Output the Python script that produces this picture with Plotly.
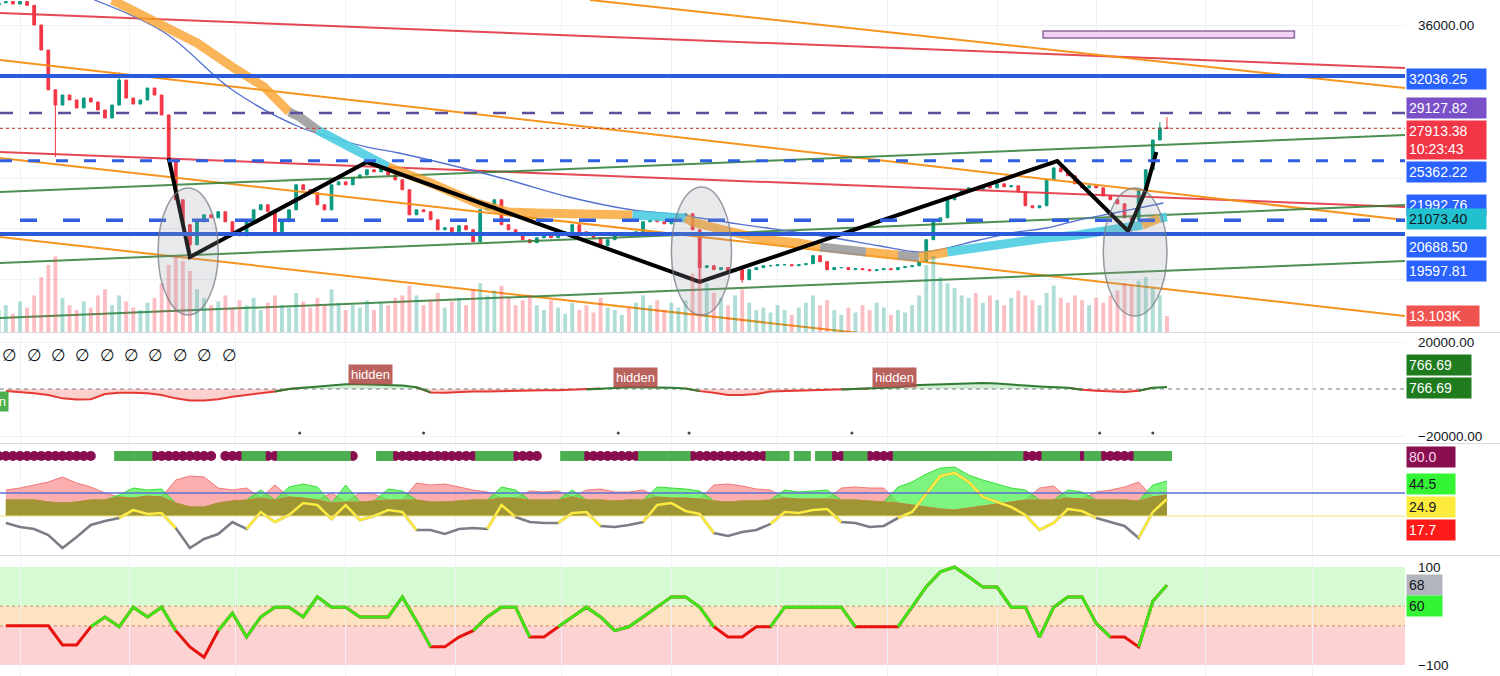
import pandas as pd
import plotly.graph_objects as go

# ---------------------------------------------------------------- data
candle_start = "2022-04-25"          # one candle every 2 days
first_open = 37600
closes = [
    37800, 37900, 37700, 37900, 37600, 36050, 34080, 30950, 29750, 30540,
    30150, 29520, 30300, 29990, 29360, 28730, 29750, 31720, 30300, 29830,
    30150, 31090, 30540, 28970, 25430, 22290, 20330, 18750, 20560, 21110,
    20870, 21350, 20560, 19770, 19460, 20560, 21500, 21900, 21350, 19770,
    20560, 21500, 23470, 23080, 22840, 21900, 21500, 23470, 23700, 23470,
    24020, 24250, 24650, 24490, 24810, 24250, 23860, 23080, 21110, 21500,
    21350, 20720, 19930, 20090, 19770, 20250, 19930, 18990, 21500, 21740,
    22290, 20330, 19930, 19540, 19150, 18910, 19300, 19460, 19300, 19610,
    19770, 20330, 19770, 19460, 19300, 18670, 19150, 19460, 19610, 19460,
    19770, 20560, 20720, 20560, 20400, 20720, 21030, 21190, 19930, 16950,
    17100, 16790, 16950, 16630, 16790, 16000, 16790, 16950, 17100, 17100,
    17180, 17180, 17100, 17180, 17260, 17890, 17420, 16790, 16950, 16950,
    16790, 16870, 16790, 16710, 16790, 16870, 16790, 16950, 17020, 17100,
    17420, 19150, 20560, 20870, 22290, 22680, 23080, 23230, 23080, 23390,
    23230, 23550, 23310, 23390, 22920, 21820, 21660, 21820, 23860, 24800,
    24490, 24180, 23550, 23230, 23390, 23230, 22600, 22290, 21970, 20870,
    20720, 23080, 24650, 27000, 27950, 27913.38,
]
wick_idx = [8, 17, 27, 99, 105, 115, 160, 164, 165]
wick_low = [25660, None, 17700, 15820, 15740, None, 19650, None, None]
wick_high = [None, 32300, None, None, None, 17950, None, 28400, 28800]
volume_k = [
    18, 22, 15, 25, 20, 30, 45, 55, 62, 28, 22, 18, 25, 20, 30, 35, 22,
    30, 25, 20, 18, 24, 28, 40, 55, 62, 58, 50, 35, 28, 22, 25, 30, 20, 26,
    22, 28, 18, 24, 30, 22, 20, 32, 25, 20, 28, 22, 35, 24, 18, 22,
    20, 26, 18, 24, 22, 28, 30, 38, 30, 22, 26, 32, 20, 25, 28, 22, 35,
    40, 30, 34, 38, 28, 22, 26, 30,
    22, 18, 26, 20, 15, 24, 18, 22, 16, 28, 20, 18, 14, 20, 24,
    30, 22, 26, 18, 24, 20, 26, 48, 58, 40, 32,
    28, 22, 30, 35, 24, 18, 20, 16, 22, 18, 14, 20, 24,
    30, 22, 26, 18, 14, 20, 16, 22, 18, 24, 20, 14, 18, 16, 22, 30,
    55, 62, 45, 40, 36, 30, 28, 32, 24, 30, 26, 22, 28, 34, 30, 26, 22,
    32, 38, 28, 24, 30, 26, 22, 28, 24, 30, 34, 40, 38, 42, 45, 36, 30, 13.103,
]

# lower panes: one value every 4 days
osc_start = "2022-04-27"
macd_vals = [
    -900, -1270, -1810, -2530, -3980, -4520, -4340, -2170, -1630, -1630,
    -1810, -2530, -3980, -4890, -4890, -4340, -3260, -2530, -1810, -1090,
    0, 540, 1090, 1450, 1990, 1990, 1810, 1630, 1450, 720,
    -1450, -1630, -1270, -1090, -1090, -900, -720, -720, -540, -540,
    -360, -180, 180, 360, 720, 720, 720, 540, 180, -900,
    -1630, -2530, -2530, -2170, -1090, -900, -720, -540, -360, -180,
    0, 180, 360, 720, 1630, 1810, 1990, 2350, 2530, 2530,
    2350, 1810, 1450, 1090, 900, 540, -360, -720, -1090, -1270,
    -720, 540, 900,
]
di_red = [
    26, 28, 31, 34, 39, 33, 29, 23, 19, 18, 20, 19, 36, 40, 39, 28, 26, 28, 18, 31,
    19, 18, 16, 23, 14, 23, 22, 16, 16, 33, 31, 32, 29, 26, 24, 18, 18, 25, 24, 25,
    19, 26, 27, 24, 24, 26, 19, 18, 18, 17, 31, 32, 30, 27, 26, 18, 17, 17, 17, 28,
    29, 28, 28, 13, 11, 9, 7, 6, 8, 10, 12, 14, 16, 28, 30, 18, 17, 24, 26, 29,
    34, 19, 21,
]
di_green = [
    16, 16, 16, 14, 13, 14, 16, 16, 21, 28, 26, 27, 13, 9, 9, 13, 15, 16, 26, 16,
    29, 32, 29, 13, 31, 14, 15, 27, 25, 16, 14, 14, 15, 16, 16, 29, 26, 16, 16, 16,
    26, 16, 16, 15, 16, 16, 29, 28, 27, 25, 15, 14, 15, 15, 16, 26, 24, 25, 26, 16,
    16, 15, 14, 29, 34, 42, 48, 49, 41, 36, 32, 28, 26, 16, 16, 26, 24, 16, 16, 16,
    15, 31, 35,
]
adx_vals = [
    -7, -11, -13, -19, -32, -21, -9, -5, -2, 6, 2, 3, -12, -32, -23, -18, -6, -13, 4, -6,
    1, 13, 11, -3, 11, -4, 0, 6, 4, -14, -14, -18, -13, -12, -13, 11, -1, -6, -7, -7,
    3, 4, -10, -11, -9, -6, 11, 13, 5, 2, -17, -20, -16, -14, -8, 4, 3, 6, 7, -6,
    -7, -11, -10, -2, 4, 22, 40, 43, 34, 19, 14, 9, 1, -14, -7, 7, 5, -2, -6, -10,
    -22, 4, 17,
]
cci_vals = [
    -20, -20, -20, -20, -59, -59, -22, -2, -22, 18, -2, 18, -30, -63, -84, -30, 6, -43, -2, 18,
    18, -2, 39, 18, 18, -2, -2, -2, 39, -10, -63, -63, -43, -30, -2, 18, 18, -43, -43, -22,
    -2, 18, -2, -30, -22, -2, 18, 39, 39, 18, -22, -43, -43, -22, -22, 18, 18, 18, 18, 18,
    -22, -22, -22, -22, 18, 60, 90, 100, 80, 59, 59, 18, 18, -43, 18, 39, 39, -15, -43, -43,
    -63, 30, 63,
]
# state row of pane 3, one char per 2-day candle (m = maroon, g = green, . = none)
state_row = "".join([
    "mmmmmmmmmmmmmm", "...", "ggggg", "mmmmmmmmm", ".", "mmm", "ggg", "mm",
    "gggggggggg", "m", "...", "gg", "mmmmmmmmmmmm", "ggggg", "mmmm", "...",
    "ggg", "mmmmmmmm", "ggggggg", "mmmmmmmmmmm", "ggg", ".", "gg", ".", "gg",
    "mm", "ggg", "mmmm", "gggggggggggggggggg", "mmm", "ggggg", "m", "gg",
    "mmmmm", "ggggg",
])

# horizontal levels
level_thick = [32036.25, 19597.81]
level_purple = 29127.82
level_blue_dash_a = 25362.22
level_blue_dash_b = 20688.50
last_price = 27913.38

# trend lines
tl_x0 = ["2022-04-25 08:00", "2022-04-25 08:00", "2022-10-09", "2022-04-25 08:00",
         "2022-04-25 08:00", "2022-04-25 08:00", "2022-04-25 08:00",
         "2022-04-25 08:00", "2022-04-25 08:00"]
tl_y0 = [36996, 26053, 38020, 33296, 25580, 19361, 22904, 17314, 12984]
tl_x1 = ["2023-05-27 06:00"] * 9
tl_y1 = [32666, 21723, 31091, 20699, 13141, 7000, 27391, 21880, 17471]
tl_kind = ["red", "red", "orange", "orange", "orange", "orange", "green", "green", "green"]

# moving averages
thin_ma_dates = ["2022-05-22", "2022-06-11", "2022-06-30", "2022-07-19", "2022-08-07",
                 "2022-08-16", "2022-09-14", "2022-10-03", "2022-10-21", "2022-11-04",
                 "2022-11-09", "2022-11-18", "2022-11-28", "2022-12-17", "2022-12-30",
                 "2023-01-11", "2023-01-27", "2023-02-05", "2023-02-15", "2023-02-24",
                 "2023-03-06", "2023-03-13", "2023-03-20"]
thin_ma_vals = [38020, 35421, 30934, 28021, 26446, 25974, 24006, 22510, 21486, 21093,
                20856, 20463, 20069, 19282, 18652, 18180, 19124, 19675, 20069, 20698,
                21250, 21643, 22037]
thick_ma_dates = ["2022-05-27", "2022-06-11", "2022-06-20", "2022-06-30", "2022-07-09",
                  "2022-07-16", "2022-07-19", "2022-07-24", "2022-07-28", "2022-08-07",
                  "2022-08-13", "2022-08-25", "2022-09-07", "2022-09-16", "2022-09-24",
                  "2022-10-11", "2022-10-21", "2022-10-26", "2022-11-05", "2022-11-07",
                  "2022-11-18", "2022-11-28", "2022-12-07", "2022-12-13", "2022-12-26",
                  "2023-01-04", "2023-01-10", "2023-01-18", "2023-01-27", "2023-02-05",
                  "2023-02-15", "2023-02-24", "2023-03-06", "2023-03-10", "2023-03-14",
                  "2023-03-17", "2023-03-19", "2023-03-21"]
thick_ma_vals = [38020, 35894, 34634, 32745, 31170, 29202, 28808, 27785, 27234, 25659,
                 24872, 23612, 22037, 21329, 21250, 21093, 21093, 21014, 20856, 20541,
                 19754, 19124, 18888, 18573, 18180, 17944, 17786, 18180, 18573, 18888,
                 19282, 19518, 19912, 20069, 20305, 20541, 20856, 20935]
thick_ma_state = "oooooggcccooooooccooooogogocccccccoocc"

# zigzag
zz_dates = ["2022-06-12", "2022-06-18", "2022-08-07", "2022-11-09",
            "2023-02-18", "2023-03-10", "2023-03-15", "2023-03-18"]
zz_vals = [25580, 17786, 25265, 15818, 25344, 19833, 23061, 26053]

# ellipses and box
ell_x0 = ["2022-06-09", "2022-11-01", "2023-03-03"]
ell_x1 = ["2022-06-26", "2022-11-18", "2023-03-21"]
ell_y0 = [13220, 13220, 13141]
ell_y1 = [23218, 23297, 23218]
box_x = ["2023-02-14", "2023-04-26"]
box_y = [35028, 35579]

# pane 2 extras
hidden_dates = ["2022-08-08", "2022-10-22", "2023-01-03"]
hidden_vals = [6000, 4700, 4700]
dot_dates = ["2022-07-19", "2022-08-23", "2022-10-17", "2022-11-06",
             "2022-12-22", "2023-03-02", "2023-03-17"]
dot_vals = [-18700] * 7

# ---------------------------------------------------------------- build
FONT = "Liberation Sans, Arial, sans-serif"
X0, X1 = "2022-04-25 08:24", "2023-05-27 05:45"
W, H = 1500, 676

cdates = pd.date_range(candle_start, periods=len(closes), freq="2D")
odates = pd.date_range(osc_start, periods=len(macd_vals), freq="4D")
opens = [first_open] + closes[:-1]
highs = [max(o, c) for o, c in zip(opens, closes)]
lows = [min(o, c) for o, c in zip(opens, closes)]
for k, i in enumerate(wick_idx):
    if wick_low[k] is not None:
        lows[i] = min(lows[i], wick_low[k])
    if wick_high[k] is not None:
        highs[i] = max(highs[i], wick_high[k])
vol_colors = ["rgba(8,153,129,0.32)" if c >= o else "rgba(242,54,69,0.32)"
              for o, c in zip(opens, closes)]


def masked(vals, keep):
    out = []
    for k, v in enumerate(vals):
        nb = [keep(vals[m]) for m in (k - 1, k, k + 1) if 0 <= m < len(vals)]
        out.append(v if any(nb) else None)
    return out


fig = go.Figure()
NOHOVER = dict(hoverinfo="skip", showlegend=False)

# volume
fig.add_trace(go.Bar(x=cdates, y=volume_k, marker_color=vol_colors, marker_line_width=0,
                     width=1.1 * 86400000, xaxis="x", yaxis="y5", **NOHOVER))

tl_colors = {"red": "rgba(226,52,64,0.9)", "orange": "rgba(245,142,20,0.95)",
             "green": "rgba(46,125,50,0.85)"}
for a, b, c, d, kind in zip(tl_x0, tl_y0, tl_x1, tl_y1, tl_kind):
    fig.add_trace(go.Scatter(x=[a, c], y=[b, d], mode="lines",
                             line=dict(color=tl_colors[kind], width=2),
                             xaxis="x", yaxis="y", **NOHOVER))

fig.add_trace(go.Scatter(x=thin_ma_dates, y=thin_ma_vals, mode="lines",
                         line=dict(color="#5470d0", width=1.3, shape="spline"),
                         xaxis="x", yaxis="y", **NOHOVER))

ma_colors = {"o": "rgba(247,160,40,0.78)", "g": "rgba(150,150,150,0.85)",
             "c": "rgba(77,205,225,0.9)"}
k = 0
n = len(thick_ma_dates)
while k < n - 1:
    st = thick_ma_state[k]
    m = k
    while m < n - 1 and thick_ma_state[m] == st:
        m += 1
    fig.add_trace(go.Scatter(x=thick_ma_dates[k:m + 1], y=thick_ma_vals[k:m + 1],
                             mode="lines", line=dict(color=ma_colors[st], width=9),
                             xaxis="x", yaxis="y", **NOHOVER))
    k = m

fig.add_trace(go.Candlestick(x=cdates, open=opens, high=highs, low=lows, close=closes,
                             increasing=dict(line=dict(color="#089981", width=1),
                                             fillcolor="#089981"),
                             decreasing=dict(line=dict(color="#f23645", width=1),
                                             fillcolor="#f23645"),
                             whiskerwidth=0, xaxis="x", yaxis="y",
                             hoverinfo="skip", showlegend=False))

fig.add_trace(go.Scatter(x=zz_dates, y=zz_vals, mode="lines",
                         line=dict(color="#000000", width=4),
                         xaxis="x", yaxis="y", **NOHOVER))

# pane 2
pos = [max(v, 0) for v in macd_vals]
neg = [min(v, 0) for v in macd_vals]
fig.add_trace(go.Scatter(x=odates, y=neg, mode="lines", fill="tozeroy",
                         fillcolor="rgba(244,67,54,0.25)", line=dict(width=0),
                         xaxis="x2", yaxis="y2", **NOHOVER))
fig.add_trace(go.Scatter(x=odates, y=pos, mode="lines", fill="tozeroy",
                         fillcolor="rgba(76,175,80,0.25)", line=dict(width=0),
                         xaxis="x2", yaxis="y2", **NOHOVER))
fig.add_trace(go.Scatter(x=odates, y=masked(macd_vals, lambda v: v <= 0), mode="lines",
                         line=dict(color="#e53935", width=2),
                         xaxis="x2", yaxis="y2", **NOHOVER))
fig.add_trace(go.Scatter(x=odates, y=masked(macd_vals, lambda v: v >= 0), mode="lines",
                         line=dict(color="#2e7d32", width=2),
                         xaxis="x2", yaxis="y2", **NOHOVER))
fig.add_trace(go.Scatter(x=dot_dates, y=dot_vals, mode="markers",
                         marker=dict(color="#444", size=3),
                         xaxis="x2", yaxis="y2", **NOHOVER))

# pane 3
olive = [min(a, b) for a, b in zip(di_red, di_green)]
fig.add_trace(go.Scatter(x=odates, y=di_red, mode="lines", fill="tozeroy",
                         fillcolor="rgba(250,120,120,0.6)",
                         line=dict(color="rgba(240,110,110,0.9)", width=1),
                         xaxis="x3", yaxis="y3", **NOHOVER))
fig.add_trace(go.Scatter(x=odates, y=di_green, mode="lines", fill="tozeroy",
                         fillcolor="rgba(70,240,70,0.7)",
                         line=dict(color="rgba(40,220,40,0.9)", width=1),
                         xaxis="x3", yaxis="y3", **NOHOVER))
fig.add_trace(go.Scatter(x=odates, y=olive, mode="lines", fill="tozeroy",
                         fillcolor="rgba(160,145,50,0.95)",
                         line=dict(color="#c0853a", width=1),
                         xaxis="x3", yaxis="y3", **NOHOVER))
fig.add_trace(go.Scatter(x=odates, y=adx_vals, mode="lines",
                         line=dict(color="#7b7e87", width=2.6),
                         xaxis="x3", yaxis="y3", **NOHOVER))
fig.add_trace(go.Scatter(x=odates, y=masked(adx_vals, lambda v: v > 0), mode="lines",
                         line=dict(color="#ffeb3b", width=2.6),
                         xaxis="x3", yaxis="y3", **NOHOVER))
row_level = [60] * len(state_row)
fig.add_trace(go.Scatter(x=[d for d, s in zip(cdates, state_row) if s == "m"],
                         y=[r for r, s in zip(row_level, state_row) if s == "m"],
                         mode="markers", marker=dict(color="#880e4f", size=10, symbol="circle"),
                         xaxis="x3", yaxis="y3", **NOHOVER))
fig.add_trace(go.Scatter(x=[d for d, s in zip(cdates, state_row) if s == "g"],
                         y=[r for r, s in zip(row_level, state_row) if s == "g"],
                         mode="markers", marker=dict(color="#4caf50", size=10, symbol="square"),
                         xaxis="x3", yaxis="y3", **NOHOVER))

# pane 4
fig.add_trace(go.Scatter(x=odates, y=cci_vals, mode="lines",
                         line=dict(color="#e8120c", width=3),
                         xaxis="x4", yaxis="y4", **NOHOVER))
fig.add_trace(go.Scatter(x=odates, y=masked(cci_vals, lambda v: v > -20), mode="lines",
                         line=dict(color="#3ee619", width=3),
                         xaxis="x4", yaxis="y4", **NOHOVER))

# ---------------------------------------------------------------- shapes
shapes = []
for v in level_thick:
    shapes.append(dict(type="line", xref="paper", x0=0, x1=1, yref="y", y0=v, y1=v,
                       line=dict(color="#2b5bd8", width=4)))
shapes.append(dict(type="line", xref="paper", x0=0, x1=1, yref="y", y0=level_purple,
                   y1=level_purple, line=dict(color="#5b4e9c", width=2.5, dash="13px,16px")))
shapes.append(dict(type="line", xref="paper", x0=0, x1=1, yref="y", y0=level_blue_dash_a,
                   y1=level_blue_dash_a, line=dict(color="#2f5fe0", width=3, dash="12px,16px")))
shapes.append(dict(type="line", xref="x", x0="2022-05-01", x1=X1, yref="y",
                   y0=level_blue_dash_b, y1=level_blue_dash_b,
                   line=dict(color="#2f5fe0", width=3.5, dash="17px,26px")))
shapes.append(dict(type="line", xref="paper", x0=0, x1=1, yref="y", y0=last_price,
                   y1=last_price, line=dict(color="#c0392b", width=1, dash="dot")))
for a, b, c, d in zip(ell_x0, ell_x1, ell_y0, ell_y1):
    shapes.append(dict(type="circle", xref="x", yref="y", x0=a, x1=b, y0=c, y1=d,
                       fillcolor="rgba(150,153,165,0.22)",
                       line=dict(color="rgba(120,123,134,0.75)", width=1.5)))
shapes.append(dict(type="rect", xref="x", yref="y", x0=box_x[0], x1=box_x[1],
                   y0=box_y[0], y1=box_y[1], fillcolor="#f4d0f5",
                   line=dict(color="#8a6a9c", width=1.5)))
# pane 2 zero line
shapes.append(dict(type="line", xref="paper", x0=0, x1=1, yref="y2", y0=0, y1=0,
                   line=dict(color="#787b86", width=1, dash="4px,4px"), layer="below"))
# pane 3 reference lines
shapes.append(dict(type="line", xref="paper", x0=0, x1=1, yref="y3", y0=23, y1=23,
                   line=dict(color="#5b6fd6", width=1.5)))
shapes.append(dict(type="line", xref="paper", x0=0, x1=1, yref="y3", y0=0, y1=0,
                   line=dict(color="#f2e27a", width=1.2)))
# pane 4 bands
for lo, hi, col in [(20, 100, "rgba(200,250,195,0.75)"), (-20, 20, "rgba(253,215,170,0.7)"),
                    (-100, -20, "rgba(252,195,195,0.75)")]:
    shapes.append(dict(type="rect", xref="paper", x0=0, x1=1, yref="y4", y0=lo, y1=hi,
                       fillcolor=col, line=dict(width=0), layer="below"))
for v in (20, -20):
    shapes.append(dict(type="line", xref="paper", x0=0, x1=1, yref="y4", y0=v, y1=v,
                       line=dict(color="#c98a5a", width=1, dash="dot"), layer="below"))
# pane separators
for py in (332.5, 443.5, 555.5):
    shapes.append(dict(type="line", xref="paper", x0=0, x1=W / 1405, yref="paper",
                       y0=1 - py / H, y1=1 - py / H, line=dict(color="#d8dbe3", width=1)))

# ---------------------------------------------------------------- annotations
ann = []


def tag(text, yref, y, bg, fg, yshift=0, width=None):
    ann.append(dict(xref="paper", x=1, xanchor="left", xshift=1, yref=yref, y=y,
                    yanchor="middle", yshift=yshift, text=text, showarrow=False,
                    bgcolor=bg, borderpad=2, width=width, align="left",
                    font=dict(color=fg, size=14, family=FONT)))


BLUE = "#2962ff"
tag("32036.25", "y", 32036.25, BLUE, "white", -3, 75)
tag("29127.82", "y", 29127.82, "#7a50c8", "white", 5, 75)
tag("27913.38<br>10:23:43", "y", 27913.38, "#f23645", "white", -12, 75)
tag("25362.22", "y", 25362.22, BLUE, "white", -11, 75)
tag("21992.76", "y", 21992.76, BLUE, "white", -1, 75)
tag("21073.40", "y", 21073.40, "#22c1cf", "#131722", -4, 75)
tag("20688.50", "y", 20688.50, BLUE, "white", -27, 75)
tag("19597.81", "y", 19597.81, BLUE, "white", -37, 75)
tag("13.103K", "y5", 13.103, "#ef5350", "white", 0, 68)
tag("766.69", "y2", 766.69, "#1e7b1e", "white", 22, 60)
tag("766.69", "y2", 766.69, "#1e7b1e", "white", -1, 60)
tag("80.0", "paper", 1 - 457 / H, "#880e4f", "#ffd6ec", 0, 44)
tag("44.5", "paper", 1 - 484 / H, "#33f533", "#131722", 0, 44)
tag("24.9", "paper", 1 - 507 / H, "#ffeb3b", "#131722", 0, 44)
tag("17.7", "paper", 1 - 530 / H, "#ff1a1a", "white", 0, 44)
tag("68", "y4", 68, "#b2b5be", "#131722", -2, 31)
tag("60", "y4", 60, "#33f533", "#131722", -19, 31)

for d, v in zip(hidden_dates, hidden_vals):
    ann.append(dict(xref="x2", yref="y2", x=d, y=v, text="hidden", showarrow=False,
                    bgcolor="rgba(176,76,72,0.88)", borderpad=2,
                    font=dict(color="white", size=13, family=FONT)))
ann.append(dict(xref="paper", x=0, xanchor="right", xshift=9, yref="paper", y=1 - 401 / H,
                text="hidden", showarrow=False, bgcolor="#4caf50", borderpad=2,
                font=dict(color="white", size=13, family=FONT)))
for k in range(10):
    ann.append(dict(xref="paper", x=(9.6 + 24.4 * k) / 1405, xanchor="center",
                    yref="paper", y=1 - 355 / H, text="∅", showarrow=False,
                    font=dict(color="#131722", size=17, family="DejaVu Sans")))

# ---------------------------------------------------------------- layout
GRID = "#eef1f6"
TICKFONT = dict(color="#131722", size=13.5, family=FONT)
xcommon = dict(showticklabels=False, showgrid=True, gridcolor=GRID, dtick="M1",
               tick0="2022-05-01", zeroline=False, showline=False, ticks="")

fig.update_layout(
    width=W, height=H, autosize=False,
    margin=dict(l=0, r=95, t=0, b=0, pad=0, autoexpand=False),
    paper_bgcolor="white", plot_bgcolor="white",
    showlegend=False, hovermode=False, boxgap=0.45,
    font=dict(family=FONT),
    xaxis=dict(domain=[0, 1], anchor="y", range=[X0, X1], automargin=False,
               rangeslider=dict(visible=False), **xcommon),
    xaxis2=dict(domain=[0, 1], anchor="y2", matches="x", automargin=False, **xcommon),
    xaxis3=dict(domain=[0, 1], anchor="y3", matches="x", automargin=False, **xcommon),
    xaxis4=dict(domain=[0, 1], anchor="y4", matches="x", automargin=False, **xcommon),
    yaxis=dict(domain=[1 - 332 / H, 1], anchor="x", side="right", automargin=False,
               range=[11881.4, 38019.7],
               tickvals=[16000, 20000, 24000, 28000, 32000, 36000],
               ticktext=["", "", "", "", "", "36000.00"],
               showgrid=True, gridcolor=GRID, zeroline=False, ticks="",
               tickfont=TICKFONT, ticklabelstandoff=12),
    yaxis5=dict(overlaying="y", anchor="x", range=[0, 272], visible=False),
    yaxis2=dict(domain=[1 - 443 / H, 1 - 333 / H], anchor="x2", side="right",
                automargin=False,
                range=[-22977, 23828], tickvals=[20000, -20000],
                ticktext=["20000.00", "−20000.00"], showgrid=True, gridcolor=GRID,
                zeroline=False, ticks="", tickfont=TICKFONT, ticklabelstandoff=12),
    yaxis3=dict(domain=[1 - 555 / H, 1 - 444 / H], anchor="x3", side="right",
                automargin=False,
                range=[-39, 72], showticklabels=False, showgrid=False, zeroline=False),
    yaxis4=dict(domain=[0, 1 - 556 / H], anchor="x4", side="right", automargin=False,
                range=[-122.45, 122.45], tickvals=[100, 0, -100],
                ticktext=["100", "", "−100"], showgrid=False, zeroline=False,
                ticks="", tickfont=TICKFONT, ticklabelstandoff=12),
    shapes=shapes,
    annotations=ann,
)

fig.write_html("out.html",
               config={"displayModeBar": False, "staticPlot": True},
               post_script="document.body.style.margin='0px';"
                           "document.body.style.overflow='hidden';")
